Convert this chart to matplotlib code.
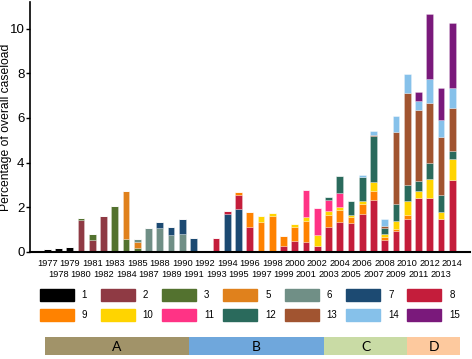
import numpy as np
import matplotlib.pyplot as plt
from matplotlib.patches import Rectangle

plt.rcParams['font.family'] = ['Liberation Sans', 'DejaVu Sans']

# years shown (1986 has no bar)
years = [1977, 1978, 1979, 1980, 1981, 1982, 1983, 1984, 1985,
         1987, 1988, 1989, 1990, 1991, 1992, 1993, 1994, 1995, 1996,
         1997, 1998, 1999, 2000, 2001, 2002, 2003, 2004, 2005, 2006,
         2007, 2008, 2009, 2010, 2011, 2012, 2013, 2014]

# % of overall caseload per category, blocks: 1977-85 | 1987-96 | 1997-2006 | 2007-14
cat1 = [0.14, 0.18, 0.23, 0, 0, 0, 0, 0, 0] + [0]*28
cat2 = [0, 0, 0, 1.43, 0.53, 1.6, 0, 0, 0] + [0]*28
cat3 = [0, 0, 0, 0.07, 0.25, 0, 2.07, 0.57, 0.18] + [0]*28
cat5 = [0, 0, 0, 0, 0, 0, 0, 2.16, 0.27] + [0]*28
cat6 = ([0, 0, 0, 0, 0, 0, 0, 0, 0.11]
        + [1.05, 1.07, 0.75, 0.78, 0, 0, 0, 0, 0, 0] + [0]*18)
cat7 = [0]*9 + [0, 0.28, 0.36, 0.69, 0.63, 0.04, 0, 1.7, 1.93, 0] + [0]*18
cat8 = ([0]*9
        + [0, 0, 0, 0, 0, 0, 0.6, 0.13, 0.63, 1.12]
        + [0, 0, 0.27, 0.48, 0.45, 0.27, 1.1, 1.32, 1.3, 1.7]
        + [2.34, 0.54, 0.94, 1.47, 2.43, 2.43, 1.48, 3.22])
cat9 = ([0]*9
        + [0, 0, 0, 0, 0, 0, 0, 0, 0.14, 0.68]
        + [1.35, 1.62, 0.45, 0.64, 0.93, 0, 0.55, 0.56, 0.27, 0.44]
        + [0.38, 0.13, 0.08, 0.18, 0, 0, 0, 0])
cat10 = ([0]*19
         + [0.24, 0.11, 0, 0.13, 0.18, 0.48, 0.19, 0.12, 0.08, 0.13]
         + [0.4, 0.11, 0.37, 0.62, 0.3, 0.85, 0.32, 0.93])
cat11 = [0]*19 + [0, 0, 0, 0, 1.2, 1.23, 0.47, 0.63, 0, 0] + [0]*8
cat12 = ([0]*19
         + [0, 0, 0, 0, 0, 0, 0.16, 0.77, 0.63, 1.06]
         + [2.05, 0.3, 0.75, 0.7, 0.44, 0.69, 0.75, 0.35])
cat13 = [0]*29 + [0.05, 0.08, 3.23, 4.15, 3.19, 2.68, 2.61, 1.95]
cat14 = [0]*28 + [0.09] + [0.21, 0.3, 0.73, 0.83, 0.38, 1.1, 0.73, 0.9]
cat15 = [0]*29 + [0, 0, 0, 0, 0.43, 2.92, 1.46, 2.92]

cat_names = ['1', '2', '3', '5', '6', '7', '8', '9', '10', '11', '12', '13', '14', '15']
cat_vals = [cat1, cat2, cat3, cat5, cat6, cat7, cat8, cat9, cat10, cat11,
            cat12, cat13, cat14, cat15]
cat_colors = ['#000000', '#8f3a44', '#53722f', '#e0811c', '#708f86', '#1c4a72',
              '#c41d3b', '#ff8200', '#ffd400', '#ff3385', '#2a6a5c', '#a15430',
              '#86c1ea', '#7a197b']

periods = ['A', 'B', 'C', 'D']
period_edges = [-0.2, 12.6, 24.6, 32.0, 36.7]   # in bar positions
period_colors = ['#a19369', '#6fa7dc', '#c9dba5', '#fdc99e']

W, H = 472, 359
fig = plt.figure(figsize=(W/100, H/100), dpi=100)
ax = fig.add_axes([30/W, 1-251.7/H, 440/W, 249.7/H])

x = np.arange(len(years))
bottom = np.zeros(len(years))
for vals, col in zip(cat_vals, cat_colors):
    v = np.array(vals, dtype=float)
    ax.bar(x, v, 0.6, bottom=bottom, color=col,
           edgecolor=(1, 1, 1, 0.35), linewidth=0.5)
    bottom += v

ax.set_xlim(-1.54, 37.57)
ax.set_ylim(0, 11.2)
ax.set_yticks([0, 2, 4, 6, 8, 10])
# two staggered rows of year labels: even positions on top, odd below
ax.set_xticks(x[::2])
ax.set_xticklabels([str(y) for y in years[::2]], fontsize=6.7)
ax.set_xticks(x[1::2], minor=True)
ax.set_xticklabels([str(y) for y in years[1::2]], minor=True, fontsize=6.7)
ax.tick_params(axis='x', which='major', length=0, pad=5)
ax.tick_params(axis='x', which='minor', length=0, pad=13.5)
ax.tick_params(axis='y', length=3, width=1, labelsize=9.5, pad=1)
ax.set_ylabel('Percentage of overall caseload', fontsize=8.7)
ax.yaxis.set_label_coords(-0.042, 0.5)
for s in ['top', 'right']:
    ax.spines[s].set_visible(False)
ax.spines['left'].set_linewidth(1.2)
ax.spines['bottom'].set_linewidth(1.5)

# legend drawn by hand, 7 per row
lax = fig.add_axes([0, 0, 1, 1])
lax.set_xlim(0, W)
lax.set_ylim(H, 0)
lax.axis('off')
for k, (name, col) in enumerate(zip(cat_names, cat_colors)):
    r, c = divmod(k, 7)
    x0 = 39.5 + c * 61.3
    y0 = 288.5 + r * 20
    lax.add_patch(Rectangle((x0, y0), 34, 12, color=col))
    lax.text(x0 + 42, y0 + 6.5, name, fontsize=7, va='center', ha='left')

# period band
bax = fig.add_axes([30/W, 1-355/H, 440/W, 18.3/H])
bax.set_xlim(ax.get_xlim())
bax.set_ylim(0, 1)
bax.axis('off')
widths = np.diff(period_edges)
bax.barh(0.5, widths, left=period_edges[:-1], height=1, color=period_colors)
for lab, l, w in zip(periods, period_edges[:-1], widths):
    bax.text(l + w/2, 0.45, lab, ha='center', va='center', fontsize=10,
             family=['Lato', 'DejaVu Sans'])

fig.savefig('out.png', dpi=100)
